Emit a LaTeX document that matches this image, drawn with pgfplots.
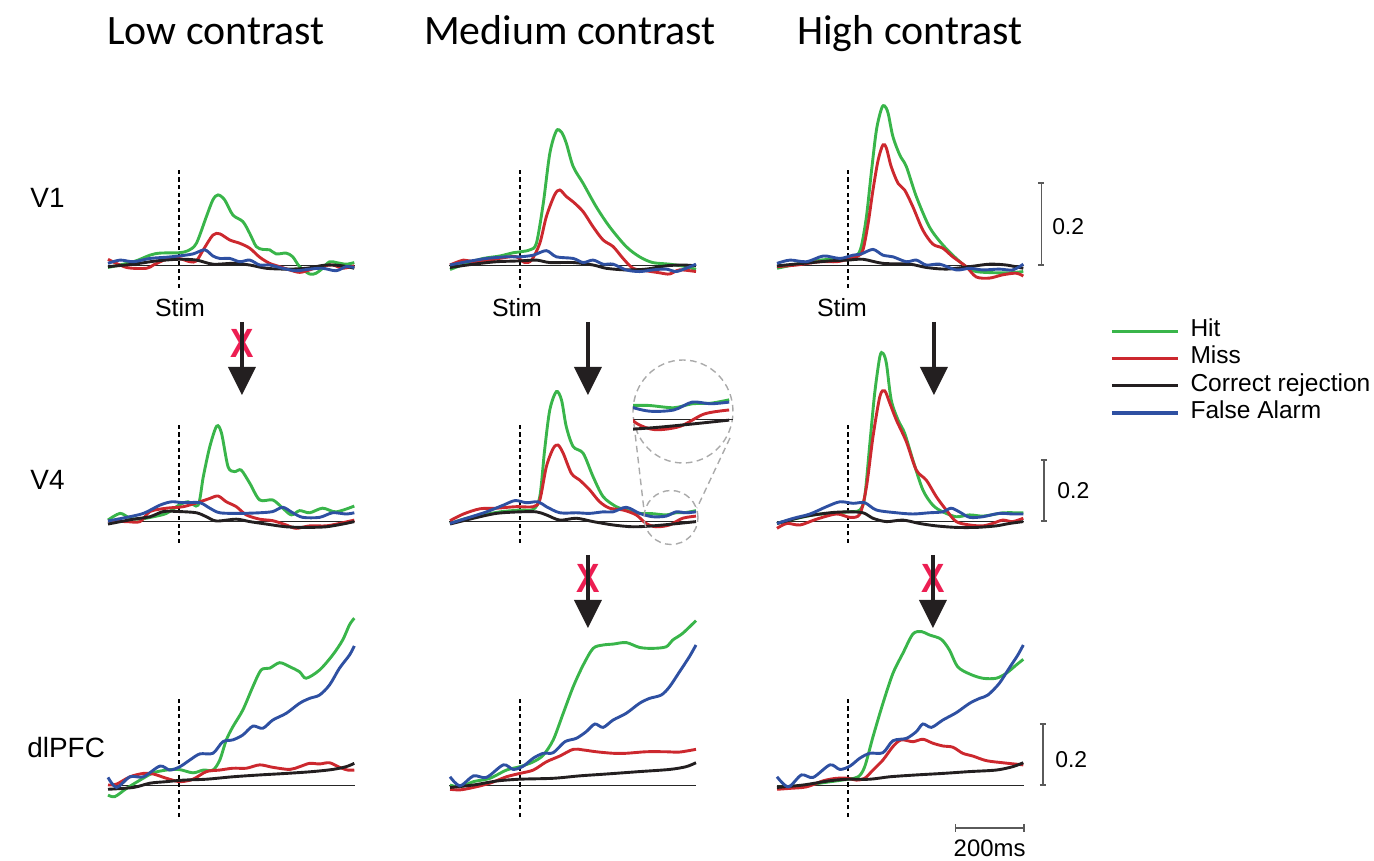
\documentclass[border=0pt]{standalone}
\usepackage{pgfplots}
\pgfplotsset{compat=1.18}
\usepackage{pgfplotstable}
\usepackage{fontspec}
\setmainfont{Liberation Sans}
\newfontfamily\calibri{Carlito}

\definecolor{cHit}{RGB}{57,181,74}
\definecolor{cMiss}{RGB}{204,40,46}
\definecolor{cCR}{RGB}{35,31,32}
\definecolor{cFA}{RGB}{46,80,162}
\definecolor{cX}{RGB}{236,30,82}
\definecolor{cArr}{RGB}{35,31,32}
\definecolor{cInset}{RGB}{170,170,170}
\definecolor{cBar}{RGB}{90,90,90}

\pgfplotsset{
  panel/.style={hide axis, x=0.172bp, xmin=-206, xmax=512, clip=false, anchor=south west},
  rowA/.style={panel, y=205bp, ymin=-0.1, ymax=0.45},
  rowB/.style={panel, y=152.5bp, ymin=-0.1, ymax=0.6},
  cv/.style={smooth, line width=1.45bp, mark=none},
  hit/.style={cv, color=cHit},
  miss/.style={cv, color=cMiss},
  cr/.style={cv, color=cCR},
  fa/.style={cv, color=cFA},
}
\newcommand{\basestim}[2]{%
  \draw[black!85, line width=0.5bp] (axis cs:-206,0) -- (axis cs:512,0);
  \draw[black, line width=0.75bp, dash pattern=on 2.1bp off 1.7bp] (axis cs:0,#1) -- (axis cs:0,#2);}

% V4, medium contrast (also used by the magnified inset)
\pgfplotstableread{
t v
-203 -0.008
-155 0.009
-106 0.020
-58 0.030
0 0.036
39 0.038
58 0.080
72 0.233
87 0.364
106 0.424
121 0.397
135 0.309
155 0.244
184 0.222
213 0.145
242 0.080
280 0.047
309 0.036
348 0.025
386 0.024
425 0.020
454 0.027
483 0.028
512 0.034
}\vmG
\pgfplotstableread{
t v
-203 0.001
-164 0.023
-116 0.040
-68 0.042
-10 0.047
39 0.047
58 0.069
77 0.178
97 0.238
111 0.249
126 0.222
150 0.156
174 0.134
203 0.102
232 0.063
261 0.042
300 0.036
338 0.020
367 -0.008
396 -0.019
435 -0.013
473 0.009
512 0.016
}\vmR
\pgfplotstableread{
t v
-203 -0.010
-135 0.009
-68 0.025
0 0.030
48 0.030
77 0.020
116 0.003
164 0.009
213 -0.002
271 -0.013
329 -0.019
386 -0.016
444 -0.010
512 -0.002
}\vmK
\pgfplotstableread{
t v
-203 -0.008
-155 0.009
-97 0.030
-48 0.052
-14 0.067
19 0.060
53 0.063
77 0.047
116 0.027
164 0.027
203 0.025
242 0.030
271 0.030
309 0.045
348 0.025
386 0.014
425 0.016
454 0.030
483 0.027
512 0.030
}\vmB

\begin{document}
\begin{tikzpicture}
\path[use as bounding box] (0,0) rectangle (687bp,-430.5bp);

% ================= V1 =================
\begin{axis}[rowA, at={(54bp,-153bp)}]
\basestim{-0.056}{0.237}
\addplot[hit] coordinates {(-206,-0.006) (-132,0.008) (-84,0.024) (-55,0.029) (0,0.030) (27,0.035) (51,0.053) (80,0.118) (99,0.159) (114,0.171) (133,0.159) (157,0.122) (186,0.106) (206,0.077) (225,0.045) (244,0.038) (264,0.037) (283,0.027) (312,0.029) (331,0.020) (351,-0.004) (380,-0.022) (399,-0.020) (418,-0.008) (438,0.008) (457,0.006) (486,0.002) (510,0.006)};
\addplot[miss] coordinates {(-206,0.014) (-152,-0.006) (-94,-0.008) (-74,0) (-36,0.014) (0,0.016) (32,0.008) (51,0.010) (71,0.037) (99,0.073) (119,0.076) (148,0.061) (177,0.053) (206,0.041) (235,0.019) (264,0.004) (293,-0.004) (322,-0.012) (351,-0.018) (380,-0.012) (409,-0.004) (447,0) (476,-0.008) (510,-0.002)};
\addplot[cr] coordinates {(-206,-0.004) (-132,0.002) (-65,0.010) (0,0.014) (51,0.012) (99,0.002) (157,0.004) (206,0) (254,-0.008) (312,-0.010) (370,-0.008) (428,0) (476,-0.002) (510,-0.008)};
\addplot[fa] coordinates {(-206,0.004) (-171,0.012) (-132,0.008) (-84,0.016) (-36,0.019) (0,0.022) (41,0.027) (75,0.037) (99,0.022) (119,0.016) (148,0.016) (177,0.008) (206,0.012) (235,0) (264,0) (302,-0.008) (340,-0.014) (380,-0.010) (418,-0.008) (457,-0.014) (486,-0.004) (510,-0.006)};
\end{axis}

\begin{axis}[rowA, at={(224.5bp,-153bp)}]
\basestim{-0.056}{0.237}
\addplot[hit] coordinates {(-203,-0.011) (-155,0.004) (-106,0.016) (-58,0.022) (-19,0.030) (0,0.032) (29,0.037) (48,0.053) (68,0.150) (87,0.272) (106,0.327) (121,0.324) (135,0.297) (155,0.240) (184,0.199) (222,0.142) (261,0.093) (309,0.045) (348,0.020) (386,0.006) (435,0.002) (483,-0.004) (512,-0.011)};
\addplot[miss] coordinates {(-203,0) (-164,0.012) (-135,0.008) (-87,0.012) (-39,0.019) (-10,0.020) (14,0.006) (34,0.012) (58,0.053) (77,0.118) (101,0.171) (116,0.183) (135,0.167) (155,0.154) (184,0.130) (213,0.093) (242,0.061) (271,0.045) (300,0.016) (329,-0.008) (367,-0.014) (406,-0.019) (435,-0.022) (464,-0.012) (512,-0.016)};
\addplot[cr] coordinates {(-203,-0.006) (-135,0.002) (-68,0.008) (0,0.010) (48,0.012) (87,0.006) (155,0.006) (213,0) (251,-0.008) (309,-0.012) (367,-0.010) (425,-0.002) (473,0) (512,-0.002)};
\addplot[fa] coordinates {(-203,0) (-155,0.008) (-97,0.016) (-39,0.020) (0,0.020) (39,0.024) (77,0.035) (106,0.020) (155,0.016) (184,0.006) (213,0.012) (242,0.002) (271,0.002) (309,-0.012) (348,-0.016) (386,-0.012) (425,-0.010) (454,-0.016) (483,-0.008) (512,0.002)};
\end{axis}

\begin{axis}[rowA, at={(388.5bp,-153bp)},
  legend style={at={(1.348,-0.293)}, anchor=west, draw=none, fill=none, inner sep=0pt, row sep=0pt,
    font=\fontsize{12.3}{13.65}\selectfont,
    nodes={inner sep=0pt, text height=9.6bp, text depth=4.05bp, anchor=west},
    /tikz/every odd column/.append style={column sep=5.5bp}},
  legend cell align=left,
  legend image code/.code={\draw[#1, line width=1.6bp] (0bp,0bp) -- (33bp,0bp);}]
\basestim{-0.056}{0.237}
\addplot[hit] coordinates {(-206,-0.008) (-149,0.002) (-100,0.010) (-52,0.014) (0,0.016) (25,0.022) (39,0.045) (54,0.118) (68,0.224) (83,0.329) (98,0.382) (107,0.388) (117,0.370) (131,0.313) (151,0.268) (170,0.240) (199,0.167) (237,0.093) (276,0.049) (315,0.016) (344,-0.004) (373,-0.016) (431,-0.019) (470,-0.019) (510,-0.016)};
\addlegendentry{Hit}
\addplot[miss] coordinates {(-206,-0.004) (-149,0) (-81,0.008) (-33,0.008) (0,0.014) (30,0.022) (44,0.037) (59,0.102) (73,0.183) (88,0.256) (102,0.293) (112,0.285) (126,0.240) (146,0.199) (165,0.183) (189,0.142) (218,0.085) (247,0.051) (276,0.041) (305,0.020) (344,-0.004) (373,-0.029) (411,-0.032) (450,-0.024) (489,-0.020) (510,-0.027)};
\addlegendentry{Miss}
\addplot[cr] coordinates {(-206,-0.002) (-130,0.004) (-52,0.010) (0,0.012) (44,0.014) (102,0.004) (180,0.002) (228,-0.006) (286,-0.010) (354,-0.004) (411,0.002) (460,0) (510,-0.008)};
\addlegendentry{Correct rejection}
\addplot[fa] coordinates {(-206,0.004) (-168,0.012) (-120,0.008) (-71,0.022) (-23,0.016) (15,0.024) (39,0.027) (73,0.038) (102,0.024) (131,0.020) (170,0.008) (199,0.012) (228,0) (267,0.002) (315,-0.012) (354,-0.008) (392,-0.012) (440,-0.010) (479,-0.012) (510,0.002)};
\addlegendentry{False Alarm}
% scale bar 0.2
\draw[cBar, line width=0.6bp] (axis cs:562,0) -- (axis cs:562,0.2);
\draw[cBar, line width=0.6bp] (axis cs:553,0) -- (axis cs:571,0);
\draw[cBar, line width=0.6bp] (axis cs:553,0.2) -- (axis cs:571,0.2);
\node[anchor=west, inner sep=0pt, font=\fontsize{11.5}{11.5}\selectfont] at (axis cs:593,0.093) {0.2};
\end{axis}

% ================= V4 =================
\begin{axis}[rowB, at={(54bp,-275.75bp)}]
\basestim{-0.072}{0.315}
\addplot[hit] coordinates {(-206,0.003) (-171,0.025) (-142,0.009) (-113,0.006) (-74,0.014) (-36,0.025) (0,0.052) (27,0.063) (56,0.052) (71,0.145) (90,0.244) (110,0.311) (124,0.288) (143,0.178) (162,0.162) (181,0.167) (206,0.124) (235,0.069) (273,0.069) (302,0.042) (327,0.020) (351,0.034) (380,0.027) (418,0.042) (457,0.030) (510,0.049)};
\addplot[miss] coordinates {(-206,0) (-152,-0.002) (-113,-0.002) (-84,0.031) (-36,0.042) (13,0.047) (61,0.063) (90,0.074) (114,0.082) (138,0.063) (167,0.047) (196,0.020) (235,0.006) (273,0.001) (312,-0.013) (341,-0.024) (380,-0.016) (428,-0.016) (467,-0.008) (510,0.003)};
\addplot[cr] coordinates {(-206,-0.010) (-132,0.006) (-84,0.014) (-45,0.031) (0,0.031) (51,0.027) (80,0.014) (109,0) (167,0.006) (206,-0.002) (254,-0.010) (312,-0.019) (370,-0.021) (428,-0.019) (476,-0.010) (510,-0.002)};
\addplot[fa] coordinates {(-206,0) (-152,0.012) (-103,0.025) (-55,0.052) (-21,0.063) (13,0.060) (61,0.060) (90,0.042) (119,0.027) (177,0.025) (235,0.027) (273,0.031) (302,0.045) (331,0.027) (360,0.012) (409,0.012) (447,0.027) (486,0.023) (510,0.027)};
\end{axis}

\begin{axis}[rowB, at={(224.5bp,-275.75bp)}]
\basestim{-0.072}{0.315}
\addplot[hit] table[x=t,y=v] {\vmG};
\addplot[miss] table[x=t,y=v] {\vmR};
\addplot[cr] table[x=t,y=v] {\vmK};
\addplot[fa] table[x=t,y=v] {\vmB};
\end{axis}

\begin{axis}[rowB, at={(388.5bp,-275.75bp)}]
\basestim{-0.072}{0.315}
\addplot[hit] coordinates {(-206,-0.008) (-158,0.006) (-100,0.020) (-52,0.025) (0,0.030) (35,0.036) (49,0.080) (64,0.255) (78,0.419) (93,0.539) (102,0.550) (112,0.517) (126,0.397) (146,0.331) (165,0.288) (189,0.200) (218,0.102) (247,0.052) (276,0.030) (315,0.014) (354,0.020) (392,0.016) (431,0.023) (450,0.027) (510,0.027)};
\addplot[miss] coordinates {(-206,-0.024) (-177,-0.008) (-139,-0.013) (-91,0.006) (-33,0.023) (6,0.012) (35,0.023) (54,0.112) (73,0.276) (93,0.408) (107,0.427) (122,0.386) (141,0.331) (170,0.260) (199,0.167) (228,0.134) (257,0.080) (286,0.036) (315,-0.002) (354,-0.013) (392,-0.016) (421,-0.008) (450,0.003) (479,-0.002) (510,0.009)};
\addplot[cr] coordinates {(-206,-0.008) (-130,0.014) (-52,0.027) (0,0.030) (44,0.027) (73,0.009) (112,-0.002) (160,0.003) (208,-0.008) (257,-0.016) (315,-0.021) (373,-0.021) (431,-0.016) (470,-0.008) (510,-0.002)};
\addplot[fa] coordinates {(-206,-0.008) (-158,0.009) (-110,0.023) (-62,0.047) (-23,0.063) (15,0.058) (49,0.060) (83,0.036) (141,0.027) (189,0.023) (237,0.027) (276,0.030) (300,0.042) (324,0.030) (354,0.012) (392,0.014) (440,0.025) (479,0.023) (510,0.023)};
\draw[cBar, line width=0.6bp] (axis cs:570,0) -- (axis cs:570,0.2);
\draw[cBar, line width=0.6bp] (axis cs:561,0) -- (axis cs:579,0);
\draw[cBar, line width=0.6bp] (axis cs:561,0.2) -- (axis cs:579,0.2);
\node[anchor=west, inner sep=0pt, font=\fontsize{11.5}{11.5}\selectfont] at (axis cs:608,0.10) {0.2};
\end{axis}

% ================= dlPFC =================
\begin{axis}[rowB, at={(54bp,-407.75bp)}]
\basestim{-0.105}{0.285}
\addplot[hit] coordinates {(-206,-0.033) (-186,-0.038) (-152,-0.011) (-113,0.016) (-74,0.040) (-36,0.049) (0,0.051) (41,0.040) (71,0.049) (99,0.049) (119,0.082) (138,0.148) (157,0.191) (186,0.246) (215,0.322) (239,0.377) (264,0.383) (293,0.401) (322,0.388) (351,0.371) (370,0.350) (409,0.377) (447,0.426) (476,0.475) (496,0.525) (510,0.547)};
\addplot[miss] coordinates {(-206,0) (-181,0.003) (-142,0.027) (-103,0.038) (-74,0.036) (-36,0.022) (3,0.011) (41,0.019) (80,0.044) (119,0.049) (157,0.055) (196,0.055) (235,0.066) (273,0.058) (322,0.051) (351,0.060) (380,0.071) (409,0.069) (438,0.073) (467,0.058) (491,0.049) (510,0.049)};
\addplot[cr] coordinates {(-206,-0.014) (-132,-0.008) (-84,0.006) (-36,0.011) (13,0.016) (80,0.019) (157,0.027) (235,0.033) (312,0.038) (389,0.044) (447,0.051) (486,0.060) (510,0.071)};
\addplot[fa] coordinates {(-206,0.025) (-181,-0.008) (-142,0.027) (-103,0.027) (-55,0.062) (-26,0.049) (3,0.060) (32,0.082) (61,0.102) (99,0.104) (128,0.142) (157,0.148) (186,0.164) (215,0.193) (244,0.186) (273,0.213) (312,0.235) (351,0.268) (380,0.284) (409,0.295) (438,0.328) (467,0.383) (496,0.426) (510,0.456)};
\end{axis}

\begin{axis}[rowB, at={(224.5bp,-407.75bp)}]
\basestim{-0.105}{0.285}
\addplot[hit] coordinates {(-203,0) (-174,-0.006) (-135,0.011) (-87,0.022) (-39,0.049) (0,0.060) (39,0.076) (68,0.098) (97,0.148) (126,0.235) (155,0.322) (184,0.393) (213,0.448) (242,0.459) (271,0.462) (309,0.467) (348,0.451) (386,0.448) (425,0.453) (444,0.475) (473,0.497) (512,0.539)};
\addplot[miss] coordinates {(-203,-0.014) (-174,-0.016) (-135,-0.008) (-87,0.006) (-39,0.027) (0,0.038) (39,0.049) (77,0.076) (116,0.095) (155,0.117) (184,0.115) (222,0.109) (271,0.104) (309,0.104) (367,0.109) (425,0.109) (464,0.108) (512,0.117)};
\addplot[cr] coordinates {(-203,-0.008) (-135,0) (-68,0.013) (0,0.019) (97,0.022) (174,0.030) (251,0.036) (348,0.044) (435,0.051) (483,0.060) (512,0.073)};
\addplot[fa] coordinates {(-203,0.027) (-174,-0.003) (-135,0.030) (-97,0.025) (-48,0.066) (-19,0.051) (10,0.062) (39,0.088) (68,0.104) (97,0.106) (131,0.142) (164,0.153) (193,0.175) (218,0.200) (242,0.189) (271,0.213) (309,0.235) (348,0.268) (377,0.284) (411,0.295) (435,0.322) (464,0.371) (493,0.421) (512,0.459)};
\end{axis}

\begin{axis}[rowB, at={(388.5bp,-407.75bp)}]
\basestim{-0.105}{0.285}
\addplot[hit] coordinates {(-206,-0.008) (-149,-0.006) (-81,0.006) (0,0.019) (30,0.027) (49,0.060) (73,0.158) (102,0.268) (131,0.366) (160,0.432) (189,0.495) (214,0.503) (237,0.492) (271,0.478) (295,0.443) (319,0.388) (354,0.364) (392,0.350) (431,0.350) (460,0.366) (489,0.393) (510,0.412)};
\addplot[miss] coordinates {(-206,-0.014) (-168,-0.011) (-120,-0.006) (-71,0.014) (-33,0.022) (0,0.022) (25,0.016) (49,0.022) (73,0.049) (102,0.082) (131,0.126) (155,0.148) (189,0.142) (218,0.150) (247,0.137) (276,0.128) (305,0.124) (334,0.104) (363,0.095) (402,0.080) (450,0.073) (510,0.066)};
\addplot[cr] coordinates {(-206,-0.008) (-130,0) (-52,0.014) (0,0.019) (64,0.019) (122,0.027) (199,0.033) (276,0.038) (354,0.044) (431,0.049) (479,0.060) (510,0.073)};
\addplot[fa] coordinates {(-206,0.027) (-173,-0.006) (-135,0.033) (-101,0.025) (-52,0.066) (-23,0.051) (6,0.062) (35,0.088) (64,0.104) (102,0.106) (131,0.145) (170,0.153) (199,0.175) (218,0.200) (243,0.189) (276,0.213) (315,0.237) (354,0.268) (383,0.284) (407,0.295) (440,0.333) (469,0.383) (494,0.426) (510,0.459)};
\draw[cBar, line width=0.6bp] (axis cs:567,0) -- (axis cs:567,0.2);
\draw[cBar, line width=0.6bp] (axis cs:558,0) -- (axis cs:576,0);
\draw[cBar, line width=0.6bp] (axis cs:558,0.2) -- (axis cs:576,0.2);
\node[anchor=west, inner sep=0pt, font=\fontsize{11.5}{11.5}\selectfont] at (axis cs:602,0.082) {0.2};
% time scale bar 200 ms
\draw[cBar, line width=0.6bp] (axis cs:312,-0.141) -- (axis cs:512,-0.141);
\draw[cBar, line width=0.6bp] (axis cs:312,-0.153) -- (axis cs:312,-0.129);
\draw[cBar, line width=0.6bp] (axis cs:512,-0.153) -- (axis cs:512,-0.129);
\node[anchor=base, inner sep=0pt, font=\fontsize{12}{12}\selectfont] at (axis cs:412,-0.233) {200ms};
\end{axis}

% ================= magnified inset (V4, medium contrast) =================
\begin{scope}[x=0.5bp,y=-0.5bp]
\draw[cInset, line width=0.7bp, dash pattern=on 3.3bp off 2.2bp] (683,411.5) ellipse [x radius=25bp, y radius=25.75bp];
\draw[cInset, line width=0.7bp, dash pattern=on 3.3bp off 2.2bp] (671,517.5) circle [radius=13.5bp];
\draw[cInset, line width=0.7bp, dash pattern=on 3.3bp off 2.2bp] (634,424) -- (644,510);
\draw[cInset, line width=0.7bp, dash pattern=on 3.3bp off 2.2bp] (730,438) -- (697,508);
\end{scope}
\begin{axis}[hide axis, x=0.3185bp, y=282bp, xmin=361, xmax=518, ymin=-0.035, ymax=0.05,
  anchor=south west, at={(316.5bp,-219.37bp)}]
\draw[black!85, line width=0.5bp] (axis cs:361,0) -- (axis cs:518,0);
\addplot[hit] table[x=t,y=v] {\vmG};
\addplot[miss] table[x=t,y=v] {\vmR};
\addplot[cr] table[x=t,y=v] {\vmK};
\addplot[fa] table[x=t,y=v] {\vmB};
\end{axis}

% ================= annotations (pixel coordinates) =================
\begin{scope}[x=0.5bp,y=-0.5bp]
% titles
\node[anchor=base, inner sep=0pt, font=\calibri\fontsize{21}{21}\selectfont] at (216,44) {Low contrast};
\node[anchor=base, inner sep=0pt, font=\calibri\fontsize{21}{21}\selectfont] at (570,44) {Medium contrast};
\node[anchor=base, inner sep=0pt, font=\calibri\fontsize{21}{21}\selectfont] at (910,44) {High contrast};
% row labels
\node[anchor=base west, inner sep=0pt, font=\fontsize{14}{14}\selectfont] at (30,208) {V1};
\node[anchor=base west, inner sep=0pt, font=\fontsize{14}{14}\selectfont] at (30,490) {V4};
\node[anchor=base west, inner sep=0pt, font=\fontsize{14}{14}\selectfont] at (27,758) {dlPFC};
% Stim labels
\node[anchor=base, inner sep=0pt, font=\fontsize{12.5}{12.5}\selectfont] at (180,317) {Stim};
\node[anchor=base, inner sep=0pt, font=\fontsize{12.5}{12.5}\selectfont] at (517,317) {Stim};
\node[anchor=base, inner sep=0pt, font=\fontsize{12.5}{12.5}\selectfont] at (842,317) {Stim};
% red crosses
\node[text=cX, inner sep=0pt, xscale=0.86, font=\bfseries\fontsize{20.5}{20.5}\selectfont] at (242,343) {X};
\node[text=cX, inner sep=0pt, xscale=0.86, font=\bfseries\fontsize{20.5}{20.5}\selectfont] at (588,578) {X};
\node[text=cX, inner sep=0pt, xscale=0.86, font=\bfseries\fontsize{20.5}{20.5}\selectfont] at (933,578) {X};
% arrows V1 -> V4
\draw[cArr, line width=2bp] (242,322) -- (242,369);
\fill[cArr] (228,367) -- (256,367) -- (242,395) -- cycle;
\draw[cArr, line width=2bp] (588,322) -- (588,369);
\fill[cArr] (574,367) -- (602,367) -- (588,395) -- cycle;
\draw[cArr, line width=2bp] (934,322) -- (934,369);
\fill[cArr] (920,367) -- (948,367) -- (934,395) -- cycle;
% arrows V4 -> dlPFC
\draw[cArr, line width=2bp] (588,555) -- (588,602);
\fill[cArr] (574,600) -- (602,600) -- (588,628) -- cycle;
\draw[cArr, line width=2bp] (933,555) -- (933,602);
\fill[cArr] (919,600) -- (947,600) -- (933,628) -- cycle;
\end{scope}
\end{tikzpicture}
\end{document}
